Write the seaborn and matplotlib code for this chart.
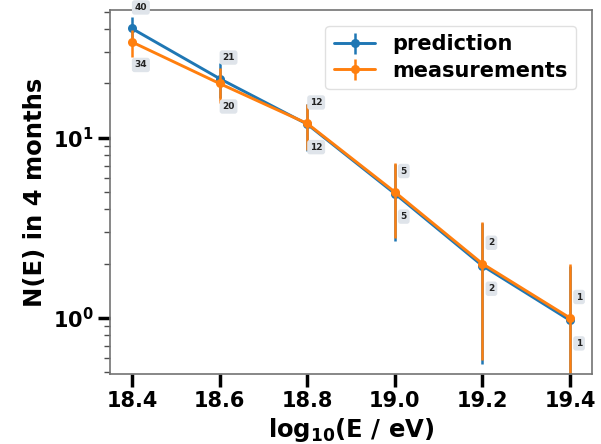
import numpy as np
import pandas as pd
import matplotlib
matplotlib.use("Agg")
import matplotlib.pyplot as plt
import seaborn as sns

# energy bins (log10 of energy in eV)
log_energy = [18.4, 18.6, 18.8, 19.0, 19.2, 19.4]
# expected event counts per bin over 4 months
prediction = [40.4, 21.3, 11.9, 4.9, 1.95, 0.97]
# observed event counts per bin
measurements = [34, 20, 12, 5, 2, 1]

x_ticks = [18.4, 18.6, 18.8, 19.0, 19.2, 19.4]

sns.set_theme(style="ticks")
plt.rcParams["font.family"] = ["DejaVu Sans"]
plt.rcParams["font.weight"] = "bold"
plt.rcParams["text.color"] = "black"
plt.rcParams["axes.labelcolor"] = "black"
plt.rcParams["xtick.color"] = "black"
plt.rcParams["ytick.color"] = "black"

blue, orange = sns.color_palette("tab10")[:2]

df = pd.DataFrame({
    "logE": log_energy * 2,
    "N": prediction + measurements,
    "series": ["prediction"] * len(log_energy) + ["measurements"] * len(log_energy),
})

fig = plt.figure(figsize=(6.01, 4.44), dpi=100)
ax = fig.add_axes([0.183, 0.158, 0.802, 0.819])

sns.lineplot(data=df, x="logE", y="N", hue="series",
             palette={"prediction": blue, "measurements": orange},
             hue_order=["prediction", "measurements"],
             marker="o", markersize=6.5, markeredgewidth=0, linewidth=2.1,
             legend=False, ax=ax)

pred_err = ax.errorbar(log_energy, prediction, yerr=np.sqrt(prediction),
                       fmt="none", ecolor=blue, elinewidth=1.8, zorder=1.5)
meas_err = ax.errorbar(log_energy, measurements, yerr=np.sqrt(measurements),
                       fmt="none", ecolor=orange, elinewidth=1.8, zorder=2.5)

lines = ax.get_lines()
ax.set_yscale("log")
ax.set_ylim(0.49, 51)
ax.set_xlim(18.35, 19.45)
ax.set_xticks(x_ticks)
ax.set_xticklabels([f"{t:.1f}" for t in x_ticks])

# value labels: larger of the two above the point, the other below
bbox = dict(boxstyle="round,pad=0.3", fc="#dfe4ea", ec="none")
for xv, p, m in zip(log_energy, prediction, measurements):
    p_up = p > m
    for val, up in ((p, p_up), (m, not p_up)):
        ax.annotate(f"{val:.0f}", xy=(xv, val),
                    xytext=(9, 21 if up else -23), textcoords="offset pixels",
                    ha="center", va="center", fontsize=6.5, fontweight="bold",
                    color="#222222", bbox=bbox, zorder=5)

ax.set_xlabel("log$_{\\mathbf{10}}$(E / eV)", fontsize=17.5, fontweight="bold", labelpad=4)
ax.set_ylabel("N(E) in 4 months", fontsize=17.5, fontweight="bold", labelpad=4)

ax.tick_params(axis="both", which="major", length=9, width=2.5, color="black",
               labelsize=15, pad=3)
ax.tick_params(axis="y", which="minor", length=4, width=1, color="0.3")
for lab in ax.get_xticklabels() + ax.get_yticklabels():
    lab.set_fontweight("bold")
for sp in ax.spines.values():
    sp.set_visible(True)
    sp.set_color("0.45")
    sp.set_linewidth(1.2)

leg = ax.legend(handles=[(lines[0], pred_err), (lines[1], meas_err)],
                labels=["prediction", "measurements"],
                loc="upper right", bbox_to_anchor=(0.988, 0.985),
                prop={"size": 15, "weight": "bold"}, frameon=True,
                handlelength=2.0, borderpad=0.4, labelspacing=0.3,
                handletextpad=0.8)
leg.get_frame().set_edgecolor("0.85")

fig.savefig("out.png", dpi=100)
